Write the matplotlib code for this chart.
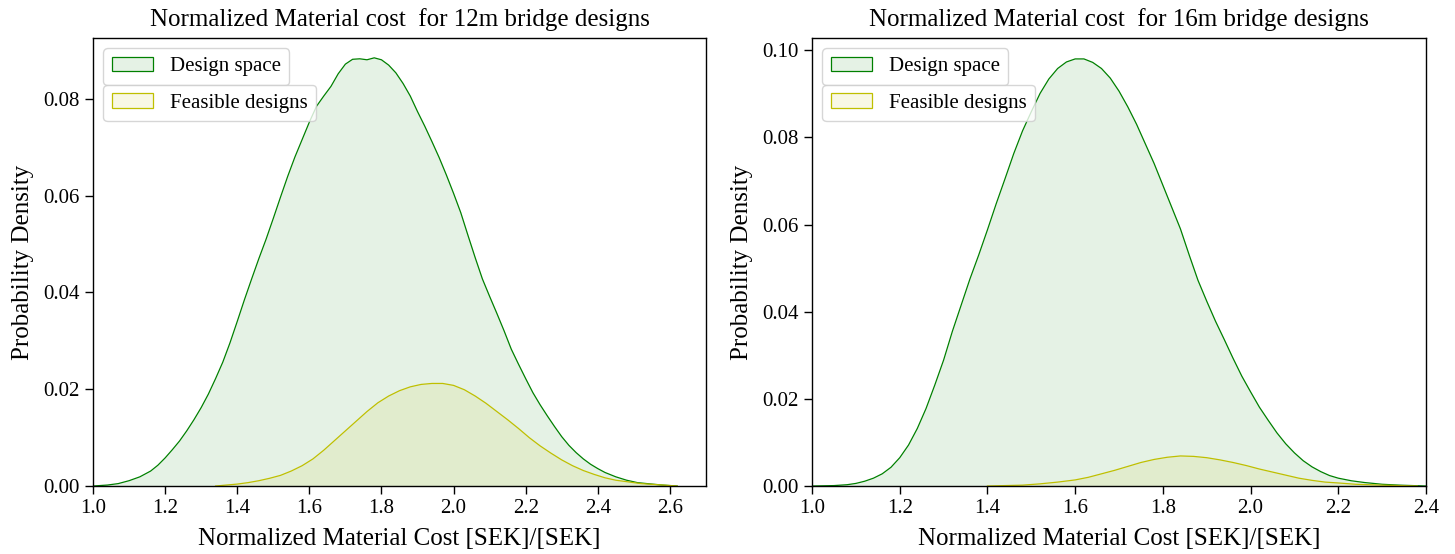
import matplotlib
matplotlib.use('Agg')
import matplotlib.pyplot as plt
import numpy as np

plt.rcParams['font.family'] = ['Liberation Serif', 'DejaVu Serif']

# density curves, 12m bridge
cost_12_all = [1.00, 1.04, 1.07, 1.10, 1.13, 1.16, 1.18, 1.20, 1.22, 1.24, 1.26, 1.28, 1.30,
               1.32, 1.34, 1.36, 1.38, 1.40, 1.42, 1.44, 1.46, 1.48, 1.50, 1.52, 1.54, 1.56,
               1.58, 1.60, 1.62, 1.64, 1.66, 1.68, 1.70, 1.72, 1.74, 1.76, 1.78, 1.80, 1.82,
               1.84, 1.86, 1.88, 1.90, 1.92, 1.94, 1.96, 1.98, 2.00, 2.02, 2.04, 2.06, 2.08,
               2.10, 2.12, 2.14, 2.16, 2.18, 2.20, 2.22, 2.24, 2.26, 2.28, 2.30, 2.32, 2.34,
               2.36, 2.38, 2.40, 2.42, 2.45, 2.48, 2.51, 2.55, 2.58, 2.62]
dens_12_all = [0.0000, 0.0002, 0.0005, 0.0011, 0.0019, 0.0031, 0.0043, 0.0058, 0.0075, 0.0093,
               0.0114, 0.0137, 0.0162, 0.0190, 0.0222, 0.0256, 0.0296, 0.0340, 0.0385, 0.0428,
               0.0470, 0.0510, 0.0553, 0.0597, 0.0640, 0.0680, 0.0716, 0.0752, 0.0785, 0.0806,
               0.0826, 0.0852, 0.0872, 0.0882, 0.0883, 0.0881, 0.0885, 0.0881, 0.0870, 0.0854,
               0.0832, 0.0806, 0.0774, 0.0744, 0.0712, 0.0679, 0.0643, 0.0605, 0.0565, 0.0518,
               0.0472, 0.0428, 0.0392, 0.0357, 0.0321, 0.0283, 0.0252, 0.0222, 0.0193, 0.0168,
               0.0145, 0.0123, 0.0102, 0.0084, 0.0069, 0.0056, 0.0045, 0.0036, 0.0028, 0.0019,
               0.0012, 0.0007, 0.0004, 0.0002, 0.0000]
cost_12_feas = [1.34, 1.37, 1.40, 1.43, 1.46, 1.49, 1.52, 1.55, 1.58, 1.61, 1.64, 1.67, 1.70,
                1.73, 1.76, 1.79, 1.82, 1.85, 1.88, 1.91, 1.94, 1.97, 2.00, 2.03, 2.06, 2.09,
                2.12, 2.15, 2.18, 2.21, 2.24, 2.27, 2.30, 2.33, 2.36, 2.39, 2.42, 2.45, 2.48,
                2.52, 2.56, 2.62]
dens_12_feas = [0.0000, 0.0002, 0.0004, 0.0007, 0.0011, 0.0016, 0.0022, 0.0031, 0.0042, 0.0056,
                0.0074, 0.0094, 0.0114, 0.0134, 0.0154, 0.0172, 0.0186, 0.0197, 0.0205, 0.0210,
                0.0212, 0.0212, 0.0208, 0.0199, 0.0186, 0.0171, 0.0154, 0.0137, 0.0119, 0.0100,
                0.0083, 0.0068, 0.0054, 0.0042, 0.0032, 0.0024, 0.0017, 0.0012, 0.0009, 0.0005,
                0.0003, 0.0000]

# density curves, 16m bridge
cost_16_all = [1.00, 1.05, 1.08, 1.10, 1.12, 1.14, 1.16, 1.18, 1.20, 1.22, 1.24, 1.26, 1.28,
               1.30, 1.32, 1.34, 1.36, 1.38, 1.40, 1.42, 1.44, 1.46, 1.48, 1.50, 1.52, 1.54,
               1.56, 1.58, 1.60, 1.62, 1.64, 1.66, 1.68, 1.70, 1.72, 1.74, 1.76, 1.78, 1.80,
               1.82, 1.84, 1.86, 1.88, 1.90, 1.92, 1.94, 1.96, 1.98, 2.00, 2.02, 2.04, 2.06,
               2.08, 2.10, 2.12, 2.14, 2.16, 2.18, 2.20, 2.23, 2.26, 2.30, 2.34, 2.40]
dens_16_all = [0.0000, 0.0001, 0.0003, 0.0006, 0.0011, 0.0018, 0.0028, 0.0043, 0.0065, 0.0094,
               0.0132, 0.0178, 0.0232, 0.0289, 0.0355, 0.0415, 0.0475, 0.0530, 0.0588, 0.0648,
               0.0705, 0.0763, 0.0815, 0.0859, 0.0901, 0.0934, 0.0958, 0.0973, 0.0980, 0.0980,
               0.0972, 0.0958, 0.0936, 0.0906, 0.0870, 0.0830, 0.0785, 0.0740, 0.0690, 0.0640,
               0.0590, 0.0530, 0.0472, 0.0424, 0.0378, 0.0336, 0.0293, 0.0252, 0.0216, 0.0181,
               0.0151, 0.0122, 0.0097, 0.0076, 0.0058, 0.0044, 0.0033, 0.0024, 0.0018, 0.0012,
               0.0008, 0.0004, 0.0002, 0.0000]
cost_16_feas = [1.40, 1.44, 1.48, 1.52, 1.56, 1.60, 1.63, 1.66, 1.69, 1.72, 1.75, 1.78, 1.81,
                1.84, 1.87, 1.90, 1.93, 1.96, 1.99, 2.02, 2.05, 2.08, 2.11, 2.14, 2.17, 2.20,
                2.24, 2.30, 2.38]
dens_16_feas = [0.0000, 0.0001, 0.0002, 0.0005, 0.0009, 0.0014, 0.0020, 0.0028, 0.0036, 0.0045,
                0.0054, 0.0061, 0.0066, 0.0069, 0.0068, 0.0065, 0.0060, 0.0054, 0.0047, 0.0039,
                0.0032, 0.0025, 0.0018, 0.0013, 0.0009, 0.0007, 0.0004, 0.0002, 0.0000]

panels = [
    ('Normalized Material cost  for 12m bridge designs', cost_12_all, dens_12_all,
     cost_12_feas, dens_12_feas, (1.0, 2.7), 0.0926, [0.0639, 0.1227, 0.4213, 0.8087]),
    ('Normalized Material cost  for 16m bridge designs', cost_16_all, dens_16_all,
     cost_16_feas, dens_16_feas, (1.0, 2.4), 0.1028, [0.5581, 0.1227, 0.4220, 0.8087]),
]

fig = plt.figure(figsize=(14.55, 5.54), dpi=100)

for title, xa, ya, xf, yf, xlim, ytop, pos in panels:
    ax = fig.add_axes(pos)
    ax.fill_between(xa, ya, color='green', alpha=0.1, linewidth=0)
    ax.plot(xa, ya, color='green', linewidth=0.9)
    ax.fill_between(xf, yf, color='y', alpha=0.1, linewidth=0)
    ax.plot(xf, yf, color='y', linewidth=0.9)

    ax.set_xlim(*xlim)
    ax.set_ylim(0, ytop)
    ax.set_title(title, fontsize=18, pad=9)
    ax.set_xlabel('Normalized Material Cost [SEK]/[SEK]', fontsize=18, labelpad=7)
    ax.set_ylabel('Probability Density', fontsize=18, labelpad=7)
    ax.tick_params(labelsize=15, length=6, width=1.0)
    for sp in ax.spines.values():
        sp.set_linewidth(1.0)

    # one legend per distribution, stacked
    h1 = plt.Rectangle((0, 0), 1, 1, facecolor=(0, 0.5, 0, 0.1), edgecolor='green', linewidth=0.9)
    h2 = plt.Rectangle((0, 0), 1, 1, facecolor=(0.75, 0.75, 0, 0.1), edgecolor='y', linewidth=0.9)
    leg1 = ax.legend([h1], ['Design space'], loc='upper left', fontsize=15)
    ax.add_artist(leg1)
    ax.legend([h2], ['Feasible designs'], loc='upper left', bbox_to_anchor=(0, 0.918), fontsize=15)

fig.savefig('out.png', dpi=100)
